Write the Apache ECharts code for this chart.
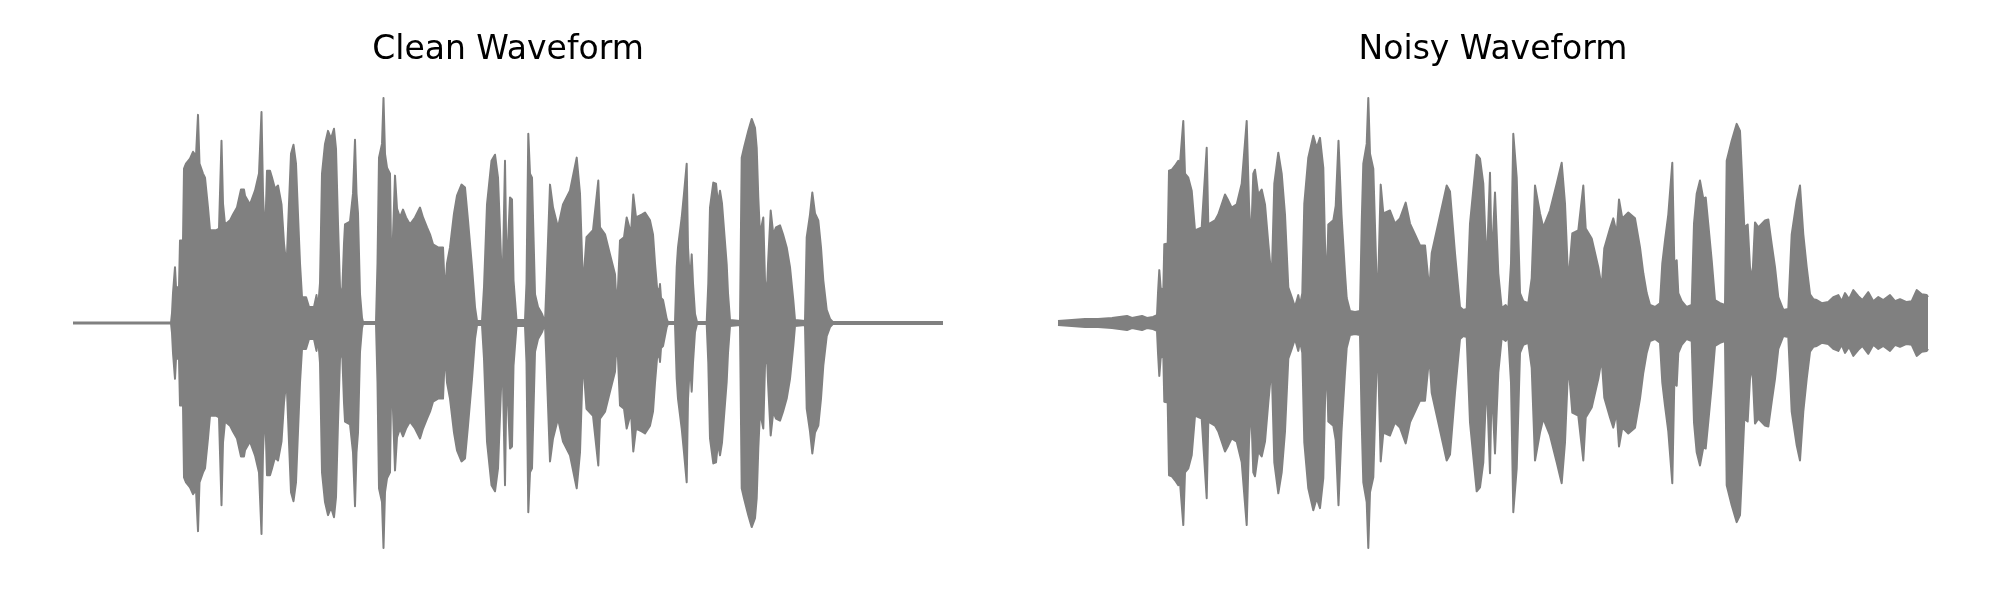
<!DOCTYPE html>
<html>
<head>
<meta charset="utf-8">
<script src="https://cdn.jsdelivr.net/npm/echarts@6/dist/echarts.min.js"></script>
<style>html,body{margin:0;padding:0;background:#fff}#c{width:2000px;height:600px}</style>
</head>
<body>
<div id="c"></div>
<script>
// Panel titles
var titles = ['Clean Waveform', 'Noisy Waveform'];

// Amplitude envelope of the clean waveform: [frame, peak amplitude] (waveform is symmetric)
var cleanEnvelope = [[0,0.002],[55,0.002],[56,0.007],[57,0.002],[98,0.002],[99,0.044],[100,0.133],[101.5,0.133],[102,0.248],[103,0.159],[106,0.159],[107,0.367],[110,0.367],[111,0.686],[113,0.708],[117,0.730],[120,0.761],[123,0.743],[125,0.925],[126.5,0.708],[130,0.664],[132,0.646],[135,0.513],[137,0.412],[143,0.412],[146,0.420],[148.5,0.810],[150,0.531],[152,0.438],[157,0.456],[160,0.482],[164,0.513],[168,0.593],[171,0.593],[172,0.566],[177,0.527],[182,0.588],[186,0.664],[188.5,0.938],[190,0.575],[192,0.367],[194,0.677],[197,0.677],[199,0.646],[202,0.597],[205,0.611],[208.5,0.527],[211,0.354],[213.5,0.248],[216,0.531],[218,0.752],[220.5,0.792],[223,0.708],[225,0.482],[227,0.265],[229,0.115],[233,0.115],[236,0.071],[241,0.071],[243.5,0.124],[245,0.062],[247,0.177],[249,0.664],[252,0.796],[255,0.854],[258,0.819],[261,0.863],[263,0.774],[265,0.442],[267,0.159],[269,0.111],[271,0.354],[272,0.438],[277,0.451],[280,0.575],[282,0.814],[283.5,0.575],[285,0.487],
[287,0.128],[289,0.022],[290,0.004],[303,0.004],[304.5,0.265],[306,0.735],[309,0.796],[310.5,1.0],[312,0.752],[314,0.690],[317,0.664],[318.5,0.190],[320.5,0.190],[322,0.655],[324,0.509],[327,0.469],[330,0.504],[333,0.469],[337,0.438],[342,0.469],[347,0.513],[350,0.469],[354,0.425],[357,0.394],[360,0.350],[365,0.336],[370,0.336],[372,0.128],[374,0.265],[377,0.336],[381,0.487],[384,0.566],[388.5,0.615],[392,0.602],[395,0.456],[399,0.248],[402,0.071],[404,0.009],[409,0.009],[411,0.159],[414,0.527],[418.5,0.721],[422,0.748],[425,0.646],[428.5,0.235],[430,0.265],[432,0.721],[433.5,0.248],[435,0.354],[437,0.558],[439,0.549],[440.5,0.190],[443.5,0.013],[452,0.013],[453.5,0.177],[455.3,0.841],[457,0.664],[459,0.646],[462,0.128],[465,0.071],[469,0.040],[472,0.004],[473.5,0.177],[477,0.615],[480,0.513],[485,0.425],[490,0.527],[497,0.588],[503.7,0.735],[507,0.575],[510,0.159],[513.5,0.381],[520,0.412],[525.3,0.633],[527,0.425],[532,0.394],[537,0.305],[542,0.217],[543.7,0.071],[545,0.159],[547,0.367],[551,0.381],[553.7,0.469],[558,0.398],[560.3,0.571],[563,0.469],[568.7,0.482],[572,0.491],
[577,0.456],[580,0.394],[582,0.265],[584,0.159],[586,0.133],[587,0.173],[588,0.111],[590,0.102],[593.7,0.018],[595,0.004],[602,0.004],[603.7,0.248],[605,0.336],[608.7,0.469],[611,0.575],[613.7,0.708],[615,0.336],[617,0.177],[618.7,0.305],[620,0.177],[622,0.040],[624,0.004],[633.7,0.004],[635.3,0.177],[637,0.513],[640.3,0.624],[643,0.619],[645,0.531],[647,0.588],[649,0.531],[650.3,0.456],[653.7,0.261],[655,0.133],[657,0.013],[667,0.009],[668.7,0.735],[671,0.779],[675.3,0.854],[678.7,0.907],[682,0.867],[683.7,0.779],[685.3,0.558],[687,0.394],[690.3,0.469],[692,0.190],[693.7,0.115],[695,0.261],[697.7,0.500],[700.3,0.394],[703,0.425],[707,0.434],[710,0.394],[713.7,0.336],[717,0.248],[720.3,0.102],[722,0.013],[732,0.009],[733.7,0.381],[737,0.482],[739.3,0.580],[742,0.487],[745.3,0.456],[748,0.336],[750.3,0.190],[753.7,0.058],[757,0.018],[760,0.004],[870,0.004]];

// Amplitude envelope of the noisy waveform: [frame, peak amplitude]
var noisyEnvelope = [[0,0.009],[13.7,0.013],[27,0.018],[40,0.018],[54,0.022],[69,0.031],[74,0.022],[84,0.031],[89,0.022],[95,0.027],[99,0.035],[100,0.133],[101.3,0.235],[102.7,0.155],[105.3,0.146],[106.3,0.350],[109.7,0.354],[111,0.677],[113.7,0.681],[117,0.699],[120.3,0.721],[122,0.708],[125.3,0.898],[127,0.664],[130.3,0.646],[133.7,0.588],[137,0.412],[143.7,0.425],[148.7,0.779],[150.3,0.438],[157,0.456],[160.3,0.482],[167,0.571],[170.3,0.544],[173.7,0.513],[178.7,0.527],[183.7,0.619],[188.7,0.898],[191,0.531],[193,0.354],[195.3,0.664],[197,0.681],[200.3,0.571],[203.7,0.593],[207,0.527],[210.3,0.354],[213.7,0.190],[216.3,0.619],[220.3,0.757],[223.7,0.664],[227,0.482],[230.3,0.159],[233.7,0.115],[237,0.071],[240.3,0.124],[242,0.080],[244.3,0.133],[246.3,0.531],[250.3,0.735],[255.3,0.832],[258.7,0.779],[262,0.823],[265.3,0.690],[267,0.354],[268.7,0.159],[270.3,0.438],[275.3,0.456],[277.7,0.520],[280.5,0.810],[283.5,0.482],
[287,0.221],[288.7,0.111],[292,0.053],[297,0.049],[302,0.053],[303.7,0.442],[305.3,0.708],[308.7,0.796],[310.3,1.0],[312,0.752],[315.3,0.686],[318.7,0.177],[320.3,0.199],[322.7,0.615],[325.3,0.487],[332,0.500],[337,0.442],[342,0.465],[347.7,0.535],[352,0.442],[357,0.394],[362,0.345],[367,0.345],[371.3,0.146],[373.7,0.310],[380.3,0.442],[388.7,0.611],[392,0.584],[397,0.310],[402,0.071],[405.3,0.058],[408.7,0.062],[412,0.442],[418.7,0.748],[422,0.730],[425.3,0.619],[428.7,0.243],[432,0.668],[433.7,0.265],[437,0.580],[440.3,0.221],[443.7,0.066],[447.7,0.080],[450.3,0.062],[453,0.265],[455.3,0.841],[458.7,0.646],[462,0.133],[465.3,0.097],[470.3,0.088],[473.7,0.199],[477,0.611],[482,0.487],[485.3,0.425],[492,0.500],[498.7,0.619],[503.7,0.712],[507,0.531],[510.3,0.177],[514.3,0.398],[520.3,0.412],[525.3,0.611],[527.7,0.420],[533.7,0.376],[540.3,0.248],[543.7,0.159],[546.3,0.332],[552,0.420],[555.3,0.465],[558.7,0.398],[561,0.549],[564.3,0.465],[570.3,0.491],
[577,0.465],[582,0.336],[585.3,0.221],[587,0.221],[588.7,0.133],[592,0.080],[597,0.071],[602,0.088],[604.3,0.265],[607,0.367],[610.3,0.482],[614.3,0.712],[616.3,0.265],[618.7,0.279],[620.3,0.133],[623.7,0.097],[628.7,0.071],[633.7,0.080],[636,0.442],[638.7,0.575],[642,0.633],[645.3,0.553],[647.7,0.558],[650.3,0.438],[653.7,0.279],[657,0.102],[662,0.088],[667,0.080],[668.7,0.721],[673.7,0.810],[678.7,0.885],[682,0.854],[683.7,0.690],[686.3,0.425],[689.7,0.438],[692,0.248],[694.3,0.190],[697,0.447],[700.3,0.425],[707,0.456],[710.3,0.460],[713.7,0.350],[717,0.248],[720.3,0.115],[725.3,0.058],[730.3,0.062],[733.7,0.394],[738.7,0.544],[742,0.611],[745.3,0.394],[748.7,0.248],[752,0.128],[755.3,0.106],[758.7,0.102],[763.7,0.088],[770.3,0.093],[775.3,0.115],[780.3,0.124],[783.7,0.097],[787,0.133],[791,0.106],[795.3,0.146],[800.3,0.119],[804.3,0.102],[810.3,0.137],[815.3,0.097],[820.3,0.115],[825.3,0.102],[832,0.124],[837,0.097],[842,0.106],[848.7,0.093],[853.7,0.097],[858.7,0.146],[863.7,0.128],[868.7,0.124],[870,0.115]];

var GREY = '#808080';
function neg(arr){ return arr.map(function(p){ return [p[0], -p[1]]; }); }
// upper envelope: grey fill down to the axis start; lower envelope: white fill from axis start up
function wave(data, idx, fill){
  return {
    type: 'line', xAxisIndex: idx, yAxisIndex: idx, data: data,
    showSymbol: false, symbol: 'none', smooth: false, silent: true,
    lineStyle: { color: GREY, width: 2, join: 'round' },
    areaStyle: { color: fill, opacity: 1, origin: 'start' }
  };
}
var chart = echarts.init(document.getElementById('c'), null, { renderer: 'canvas' });
var grids = [
  { left: 73, width: 870, top: 98, height: 450 },
  { left: 1058, width: 870, top: 98, height: 450 }
];
var titleFont = 'normal 33px "DejaVu Sans"';
chart.setOption({
  animation: false,
  backgroundColor: '#fff',
  graphic: [
    { type: 'text', x: 508, y: 50, style: { text: titles[0], x: 0, y: 0, align: 'center', verticalAlign: 'middle', font: titleFont, fill: '#000' } },
    { type: 'text', x: 1493, y: 50, style: { text: titles[1], x: 0, y: 0, align: 'center', verticalAlign: 'middle', font: titleFont, fill: '#000' } }
  ],
  grid: grids,
  xAxis: [0,1].map(function(i){ return { type: 'value', gridIndex: i, min: 0, max: 870, show: false }; }),
  yAxis: [0,1].map(function(i){ return { type: 'value', gridIndex: i, min: -1, max: 1, show: false }; }),
  series: [
    wave(cleanEnvelope, 0, GREY), wave(neg(cleanEnvelope), 0, '#ffffff'),
    wave(noisyEnvelope, 1, GREY), wave(neg(noisyEnvelope), 1, '#ffffff')
  ]
});
</script>
</body>
</html>
